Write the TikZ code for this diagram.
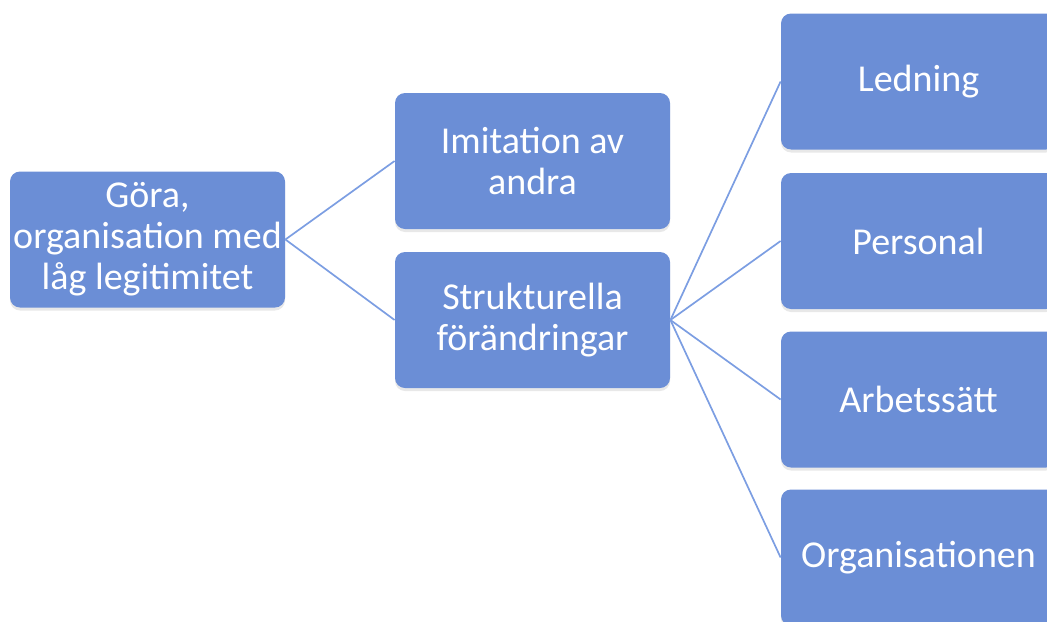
\documentclass[tikz,border=0pt]{standalone}
\usepackage{fontspec}
\setmainfont{Carlito}
\usepackage{xcolor}
\definecolor{smblue}{HTML}{6B8ED6}
\definecolor{smline}{HTML}{7C9EE2}
\usepackage{tikz}
\usetikzlibrary{shadows}

\begin{document}
\begin{tikzpicture}[
  x=0.5pt, y=-0.5pt,
  box/.style={fill=smblue, rounded corners=5pt, text=white,
              minimum width=137.5pt, minimum height=68pt, align=center,
              inner sep=1pt, font=\fontsize{19}{20.5}\selectfont,
              drop shadow={opacity=0.18, shadow xshift=0pt, shadow yshift=-1.5pt}},
  link/.style={draw=smline, line width=0.85pt}
]
  \useasboundingbox (0,0) rectangle (1047,621);
  \begin{scope}
  \clip (0,0) rectangle (1047,621);
  \node[box] (gora) at (147.5,239.5) {Göra,\\organisation med\\låg legitimitet};
  \node[box] (imit) at (532.5,161) {Imitation av\\andra};
  \node[box] (strukt) at (532.5,320) {Strukturella\\förändringar};
  \node[box] (ledn) at (918.5,81.5) {Ledning};
  \node[box] (pers) at (918.5,241) {Personal};
  \node[box] (arb) at (918.5,399.5) {Arbetssätt};
  \node[box] (org) at (918.5,557.5) {Organisationen};

  \draw[link] (gora.east) -- (imit.west);
  \draw[link] (gora.east) -- (strukt.west);
  \draw[link] (strukt.east) -- (ledn.west);
  \draw[link] (strukt.east) -- (pers.west);
  \draw[link] (strukt.east) -- (arb.west);
  \draw[link] (strukt.east) -- (org.west);
  \end{scope}
\end{tikzpicture}
\end{document}
